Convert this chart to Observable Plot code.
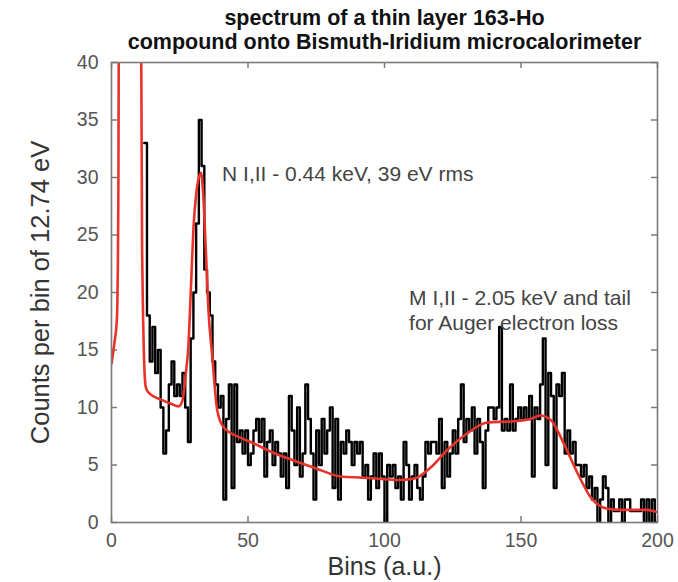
<!DOCTYPE html>
<html>
<head>
<meta charset="utf-8">
<script src="https://cdn.jsdelivr.net/npm/d3@7"></script>
<script src="https://cdn.jsdelivr.net/npm/@observablehq/plot@0.6"></script>
<style>
  html, body { margin: 0; padding: 0; background: #fff; }
</style>
</head>
<body>
<div id="chart"></div>
<script>
// ---- data ----
const titleLines = ["spectrum of a thin layer 163-Ho", "compound onto Bismuth-Iridium microcalorimeter"];
const xLabel = "Bins (a.u.)";
const yLabel = "Counts per bin of 12.74 eV";
const xTicks = [0, 50, 100, 150, 200];
const yTicks = [0, 5, 10, 15, 20, 25, 30, 35, 40];

// measured histogram: counts per bin, first bin = 12
const firstBin = 12;
const counts = [
  33, 18, 14, 17, 13, 15, 10, 6, 8, 12,          // 12-21
  14, 11, 12, 11, 13, 10, 7, 16, 20, 26,         // 22-31
  35, 31, 22, 20, 18, 14, 12, 10, 11, 2,         // 32-41
  9, 12, 3, 12, 7, 8, 6, 8, 5, 6,                // 42-51
  8, 9, 7, 9, 4, 7, 8, 5, 7, 6,                  // 52-61
  4, 6, 3, 11, 8, 5, 10, 4, 6, 12,               // 62-71
  9, 6, 2, 8, 5, 9, 6, 8, 10, 3,                 // 72-81
  9, 2, 7, 6, 8, 7, 5, 7, 6, 7,                  // 82-91
  4, 5, 2, 4, 6, 3, 6, 4, 0, 5,                  // 92-101
  4, 5, 3, 4, 2, 7, 5, 2, 4, 5,                  // 102-111
  3, 2, 4, 7, 6, 7, 7, 6, 9, 3,                  // 112-121
  7, 4, 6, 8, 6, 9, 12, 7, 9, 8,                 // 122-131
  10, 6, 9, 7, 3, 8, 10, 10, 9, 10,              // 132-141
  17, 8, 9, 8, 12, 8, 9, 10, 9, 10,              // 142-151
  9, 11, 4, 10, 9, 12, 16, 5, 13, 11,            // 152-161
  3, 12, 11, 13, 6, 8, 6, 7, 5, 5,               // 162-171
  4, 5, 3, 4, 2, 3, 0, 2, 4, 3,                  // 172-181
  0, 2, 1, 1, 2, 0, 2, 2, 1, 1,                  // 182-191
  1, 1, 2, 0, 2, 0, 2, 0                         // 192-199
];

// fitted model (red curve), sampled points
const fitBins = [0, 1, 2, 2.5, 2.9, 10.5, 11.2, 12.4, 12.8, 14, 18, 22, 24.5, 26, 27, 28.2, 29.2, 30, 31, 32, 32.8, 33.6, 34.5, 35.5, 36.9, 38.7, 41, 47, 51, 58, 65.5, 75, 84, 92, 98, 105, 110.6, 117, 123, 130, 137.7, 147, 153.5, 157, 161, 165.6, 170.7, 175.5, 181.7, 186.5, 196, 200];
const fitCounts = [13.8, 15.5, 17.8, 28, 60, 60, 24, 12, 11.6, 11.2, 10.7, 10.3, 10.1, 10.6, 12.5, 15.5, 21, 25.5, 28.5, 30, 30.4, 28.5, 24, 18.5, 14.5, 9.8, 8.3, 7.4, 7.0, 6.2, 5.5, 4.7, 4.0, 3.9, 3.8, 3.7, 3.8, 4.8, 6.3, 7.7, 8.7, 8.8, 9.0, 9.3, 8.9, 6.9, 4.3, 2.2, 1.2, 1.1, 1.1, 0.9];

const noteTexts = ["N I,II - 0.44 keV, 39 eV rms", "M I,II - 2.05 keV and tail\nfor Auger electron loss"];
const noteBins = [40.5, 109];
const noteCounts = [30.4, 18.5];

// ---- build tables ----
const hist = counts.map((c, i) => ({bin: firstBin + i, count: c}));
hist.push({bin: firstBin + counts.length, count: counts[counts.length - 1]});
const fit = fitBins.map((b, i) => ({bin: b, count: fitCounts[i]}));
const notes = noteTexts.map((t, i) => ({text: t, bin: noteBins[i], count: noteCounts[i]}));

const W = 678, H = 582;
const mTop = 62, mRight = 21, mBottom = 60, mLeft = 111;
const innerH = H - mTop - mBottom;
const innerW = W - mLeft - mRight;
const tickLen = 6;
const axisGray = "#7a7a7a";
const font = "'Liberation Sans', Arial, Helvetica, sans-serif";

const chart = Plot.plot({
  width: W,
  height: H,
  marginTop: mTop,
  marginRight: mRight,
  marginBottom: mBottom,
  marginLeft: mLeft,
  style: {fontFamily: font, background: "#fff", color: "#444"},
  x: {domain: [0, 200], label: null},
  y: {domain: [0, 40], label: null},
  marks: [
    // tick labels
    Plot.axisX({ticks: xTicks, tickSize: 0, tickPadding: 11, fontSize: 19.5, fill: "#555", label: null}),
    Plot.axisY({ticks: yTicks, tickSize: 0, tickPadding: 13, fontSize: 19.5, fill: "#555", label: null}),
    // inward ticks on all four sides
    Plot.ruleX(xTicks, {x: d => d, insetTop: innerH - tickLen, stroke: axisGray, strokeWidth: 1.5}),
    Plot.ruleX(xTicks, {x: d => d, insetBottom: innerH - tickLen, stroke: axisGray, strokeWidth: 1.5}),
    Plot.ruleY(yTicks, {y: d => d, insetRight: innerW - tickLen, stroke: axisGray, strokeWidth: 1.5}),
    Plot.ruleY(yTicks, {y: d => d, insetLeft: innerW - tickLen, stroke: axisGray, strokeWidth: 1.5}),
    // histogram
    Plot.line(hist, {x: "bin", y: "count", curve: "step-after", stroke: "#000", strokeWidth: 2.4, clip: true}),
    // fit
    Plot.line(fit, {x: "bin", y: "count", curve: "monotone-x", stroke: "#e8332a", strokeWidth: 2.6, clip: true}),
    Plot.frame({stroke: axisGray, strokeWidth: 1.6}),
    // annotations
    Plot.text(notes, {x: "bin", y: "count", text: "text", textAnchor: "start", lineAnchor: "middle", fontSize: 21, lineHeight: 1.15, fill: "#444"}),
    // titles and axis labels
    Plot.text([titleLines[0]], {frameAnchor: "top", dy: -44, textAnchor: "middle", lineAnchor: "middle", fontSize: 21.5, fontWeight: "bold", fill: "#111"}),
    Plot.text([titleLines[1]], {frameAnchor: "top", dy: -20, textAnchor: "middle", lineAnchor: "middle", fontSize: 21.5, fontWeight: "bold", fill: "#111"}),
    Plot.text([xLabel], {frameAnchor: "bottom", dy: 44, textAnchor: "middle", lineAnchor: "middle", fontSize: 25, fill: "#333"}),
    Plot.text([yLabel], {frameAnchor: "left", dx: -71, rotate: -90, textAnchor: "middle", lineAnchor: "middle", fontSize: 25.5, fill: "#333"})
  ]
});
document.getElementById("chart").appendChild(chart);
</script>
</body>
</html>
